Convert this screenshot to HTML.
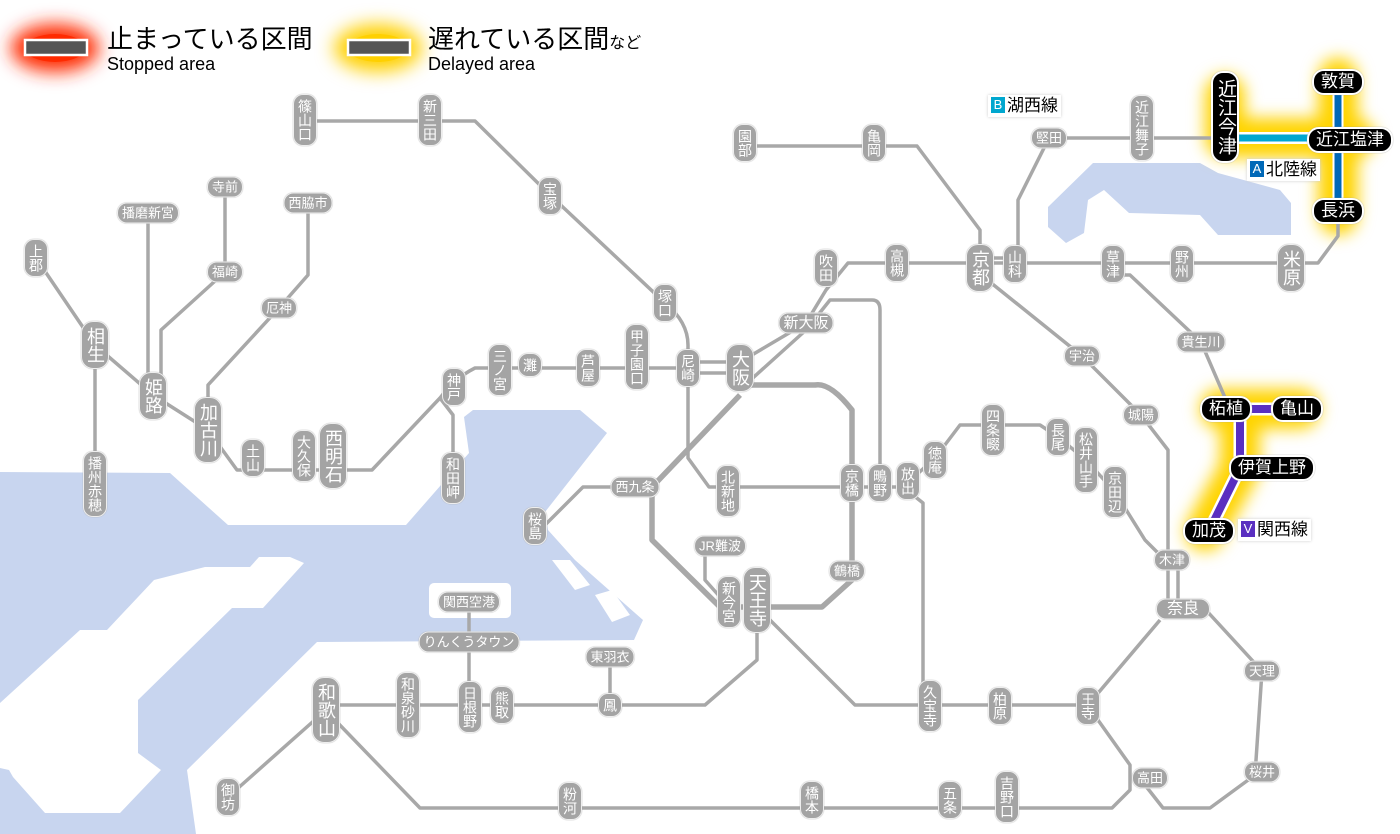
<!DOCTYPE html>
<html><head><meta charset="utf-8"><style>
body{margin:0;width:1400px;height:834px;position:relative;overflow:hidden;background:#fff;font-family:"Liberation Sans","Noto Sans CJK JP",sans-serif}
svg{position:absolute;left:0;top:0}
.s{position:absolute;transform:translate(-50%,-50%);background:#a4a4a4;color:#fff;border:1.5px solid #eee;border-radius:10px;font-size:13px;line-height:15px;padding:2px 4px;white-space:nowrap;box-shadow:0 0 1px #999}
.v{writing-mode:vertical-rl;padding:4px 2px;font-size:14px;line-height:18px}
.b{font-size:18px;line-height:22px;padding:5px 2px;border-radius:12px}
.k{background:#000;color:#fff;font-size:17px;line-height:20px;border:2px solid #fff;border-radius:12px;padding:1px 7px}
.kv{writing-mode:vertical-rl;padding:6px 1px;font-size:19px;line-height:22px}
.lab{position:absolute;background:#fff;box-shadow:0 0 3px #ccc;font-size:17px;padding:0 3px;line-height:22px;color:#000}
.lab i{font-style:normal;color:#fff;font-size:13px;display:inline-block;width:14px;height:16px;line-height:16px;text-align:center;margin-right:2px;vertical-align:2px}
</style></head><body>
<svg width="1400" height="834" viewBox="0 0 1400 834">
<defs>
<filter id="bl" x="-50%" y="-50%" width="200%" height="200%"><feGaussianBlur stdDeviation="9"/></filter>
<filter id="bl2" x="-50%" y="-50%" width="200%" height="200%"><feGaussianBlur stdDeviation="8"/></filter>
</defs>
<g fill="#c8d5ef">
<polygon points="1093,163 1200,163 1218,173 1280,190 1291,203 1291,235 1218,235 1200,215 1129,213 1104,190 1088,200 1084,233 1066,243 1048,227 1048,207"/>
<polygon points="0,472 170,473 228,525 406,525 469,453 464,417 473,410 580,410 607,433 545,512 548,530 575,560 643,620 634,640 317,642 187,770 196,834 0,834"/>
</g>
<g fill="#fff">
<polygon points="0,703 80,630 107,630 154,580 205,567 250,567 259,557 290,557 304,563 263,608 232,608 138,700 138,753 161,770 120,813 45,813 13,777 9,770 0,768"/>
<rect x="429" y="583" width="82" height="35" rx="5"/>
<polygon points="552,560 570,560 590,585 575,590"/>
<polygon points="595,595 612,590 630,615 612,622"/>
</g>
<ellipse cx="55" cy="48" rx="44" ry="24" fill="#ff2a00" filter="url(#bl)"/>
<ellipse cx="55" cy="48" rx="30" ry="14" fill="#ff2a00"/>
<ellipse cx="378" cy="48" rx="44" ry="24" fill="#ffd000" filter="url(#bl)"/>
<ellipse cx="378" cy="48" rx="30" ry="14" fill="#ffd000"/>
<rect x="25" y="40" width="62" height="15" fill="#555" stroke="#fff" stroke-width="2.5"/>
<rect x="348" y="40" width="62" height="15" fill="#555" stroke="#fff" stroke-width="2.5"/>
<g stroke="#ffd400" stroke-width="40" fill="none" stroke-linejoin="round" stroke-linecap="round" filter="url(#bl2)">
<path d="M1225,95 V138 H1355 M1338,78 V215"/>
<path d="M1220,409 H1300 M1240,409 V468 L1205,531"/>
</g>
<g stroke="#a8a8a8" stroke-width="3.5" fill="none" stroke-linejoin="round">
<path d="M305,121 H475 L550,195 L665,303 Q688,322 688,345 V458 L709,487 H903"/>
<path d="M36,258 L95,345 L153,395 L208,430 L237,470 H372 L440,398 Q455,378 475,368 H688"/>
<path d="M688,362 H740 M688,373 H740"/>
<path d="M95,345 V484 M148,213 V395 M225,187 V272 L161,330 V395 M308,203 V275 L279,308 L208,385 V430 M440,398 L453,415 V478"/>
<path d="M652,487 H583 L545,525"/>
<path d="M740,362 L806,323 L826,290 L848,263 H1318 L1338,236 V211"/>
<path d="M745,385 L806,330 L830,300 H872 Q880,300 880,310 V487"/>
<path d="M745,146 H917 L980,230 V260 M980,258 H1016"/>
<path d="M1049,138 H1225 M1049,138 L1018,200 V263"/>
<path d="M985,278 L1082,356 L1141,415 L1168,450 V560 M1168,560 V609 M1178,560 V609"/>
<path d="M1113,275 H1130 L1201,342 L1226,400"/>
<path d="M903,487 L923,503 V706 M903,487 L935,458 L960,425 H1040 L1058,437 L1086,460 L1115,492 L1145,540 L1165,560"/>
<path d="M757,607 L855,705 H1088 L1160,620 M1088,706 L1130,765 L1130,790 L1112,808 H420 L335,720 M1145,785 L1163,808 H1210 L1255,775 L1262,671 L1205,609"/>
<path d="M757,620 V660 L705,705 H335 M469,602 V707 M610,657 V705 M326,710 L228,797 M705,546 V580 L729,607"/>
</g>
<g stroke="#a8a8a8" stroke-width="5.5" fill="none" stroke-linejoin="round">
<path d="M740,385 H815 Q830,382 852,410 V580 L822,607 H720 L652,540 V487 L740,395"/>
</g>
<g fill="none" stroke-linejoin="round">
<path d="M1225,138 H1345" stroke="#fff" stroke-width="12"/>
<path d="M1225,138 H1345" stroke="#00a7cf" stroke-width="7"/>
<path d="M1338,82 V211" stroke="#fff" stroke-width="11"/>
<path d="M1338,82 V211" stroke="#0068b7" stroke-width="7"/>
<path d="M1226,409 H1295 M1240,409 V468 L1209,531" stroke="#fff" stroke-width="13"/>
<path d="M1226,409 H1295 M1240,409 V468 L1209,531" stroke="#5a2fc0" stroke-width="8"/>
</g>
</svg>

<div style="position:absolute;left:107px;top:22px;font-size:26px;line-height:34px">止まっている区間</div>
<div style="position:absolute;left:107px;top:53px;font-size:18px;line-height:22px">Stopped area</div>
<div style="position:absolute;left:428px;top:22px;font-size:26px;line-height:34px">遅れている区間<span style="font-size:16px">など</span></div>
<div style="position:absolute;left:428px;top:53px;font-size:18px;line-height:22px">Delayed area</div>

<div class="lab" style="left:988px;top:95px"><i style="background:#00a7cf">B</i>湖西線</div>
<div class="lab" style="left:1247px;top:159px"><i style="background:#0068b7">A</i>北陸線</div>
<div class="lab" style="left:1238px;top:519px"><i style="background:#5a2fc0">V</i>関西線</div>

<div class="s v" style="left:305px;top:120px">篠山口</div>
<div class="s v" style="left:430px;top:120px">新三田</div>
<div class="s v" style="left:550px;top:196px">宝塚</div>
<div class="s v" style="left:665px;top:303px">塚口</div>
<div class="s v" style="left:688px;top:368px">尼崎</div>
<div class="s v" style="left:637px;top:357px">甲子園口</div>
<div class="s v" style="left:588px;top:368px">芦屋</div>
<div class="s v" style="left:530px;top:365px">灘</div>
<div class="s v" style="left:500px;top:370px">三ノ宮</div>
<div class="s v" style="left:454px;top:387px">神戸</div>
<div class="s v" style="left:453px;top:478px">和田岬</div>
<div class="s v b" style="left:333px;top:456px">西明石</div>
<div class="s v" style="left:304px;top:456px">大久保</div>
<div class="s v" style="left:253px;top:458px">土山</div>
<div class="s v b" style="left:208px;top:430px">加古川</div>
<div class="s v b" style="left:153px;top:396px">姫路</div>
<div class="s v b" style="left:95px;top:345px">相生</div>
<div class="s v" style="left:36px;top:258px">上郡</div>
<div class="s v" style="left:95px;top:484px">播州赤穂</div>
<div class="s" style="left:148px;top:213px">播磨新宮</div>
<div class="s" style="left:225px;top:187px">寺前</div>
<div class="s" style="left:225px;top:272px">福崎</div>
<div class="s" style="left:308px;top:203px">西脇市</div>
<div class="s" style="left:279px;top:308px">厄神</div>

<div class="s v b" style="left:740px;top:368px">大阪</div>
<div class="s" style="left:806px;top:323px;font-size:15px">新大阪</div>
<div class="s v" style="left:826px;top:268px">吹田</div>
<div class="s v" style="left:897px;top:263px">高槻</div>
<div class="s v b" style="left:980px;top:268px">京都</div>
<div class="s v" style="left:1015px;top:264px">山科</div>
<div class="s v" style="left:745px;top:143px">園部</div>
<div class="s v" style="left:874px;top:143px">亀岡</div>
<div class="s" style="left:1049px;top:138px">堅田</div>
<div class="s v" style="left:1142px;top:128px">近江舞子</div>
<div class="s v" style="left:1113px;top:264px">草津</div>
<div class="s v" style="left:1182px;top:264px">野州</div>
<div class="s v b" style="left:1291px;top:268px">米原</div>
<div class="s" style="left:1201px;top:342px">貴生川</div>
<div class="s" style="left:1082px;top:356px">宇治</div>
<div class="s" style="left:1141px;top:415px">城陽</div>
<div class="s" style="left:635px;top:487px">西九条</div>
<div class="s v" style="left:728px;top:491px">北新地</div>
<div class="s v" style="left:852px;top:483px">京橋</div>
<div class="s v" style="left:880px;top:483px">鴫野</div>
<div class="s v" style="left:908px;top:481px">放出</div>
<div class="s v" style="left:935px;top:460px">徳庵</div>
<div class="s v" style="left:993px;top:430px">四条畷</div>
<div class="s v" style="left:1058px;top:437px">長尾</div>
<div class="s v" style="left:1086px;top:460px">松井山手</div>
<div class="s v" style="left:1115px;top:492px">京田辺</div>
<div class="s v" style="left:535px;top:526px">桜島</div>
<div class="s" style="left:720px;top:546px">JR難波</div>
<div class="s v" style="left:729px;top:602px">新今宮</div>
<div class="s v b" style="left:757px;top:600px">天王寺</div>
<div class="s" style="left:847px;top:571px">鶴橋</div>
<div class="s" style="left:1172px;top:560px">木津</div>
<div class="s" style="left:1183px;top:609px;font-size:16px;padding:2px 10px">奈良</div>
<div class="s" style="left:1262px;top:671px">天理</div>
<div class="s" style="left:1262px;top:772px">桜井</div>
<div class="s v" style="left:1088px;top:706px">王寺</div>
<div class="s v" style="left:1000px;top:706px">柏原</div>
<div class="s v" style="left:930px;top:706px">久宝寺</div>
<div class="s" style="left:1150px;top:778px">高田</div>
<div class="s v" style="left:1007px;top:797px">吉野口</div>
<div class="s v" style="left:950px;top:800px">五条</div>
<div class="s v" style="left:812px;top:800px">橋本</div>
<div class="s v" style="left:570px;top:801px">粉河</div>
<div class="s v b" style="left:326px;top:710px">和歌山</div>
<div class="s v" style="left:228px;top:797px">御坊</div>
<div class="s v" style="left:408px;top:705px">和泉砂川</div>
<div class="s v" style="left:470px;top:707px">日根野</div>
<div class="s v" style="left:502px;top:705px">熊取</div>
<div class="s v" style="left:610px;top:705px">鳳</div>
<div class="s" style="left:610px;top:657px">東羽衣</div>
<div class="s" style="left:469px;top:602px">関西空港</div>
<div class="s" style="left:469px;top:642px">りんくうタウン</div>

<div class="s k kv" style="left:1225px;top:117px">近江今津</div>
<div class="s k" style="left:1338px;top:82px">敦賀</div>
<div class="s k" style="left:1350px;top:140px">近江塩津</div>
<div class="s k" style="left:1338px;top:211px">長浜</div>
<div class="s k" style="left:1226px;top:409px">柘植</div>
<div class="s k" style="left:1297px;top:409px">亀山</div>
<div class="s k" style="left:1272px;top:468px">伊賀上野</div>
<div class="s k" style="left:1209px;top:531px">加茂</div>
</body></html>
